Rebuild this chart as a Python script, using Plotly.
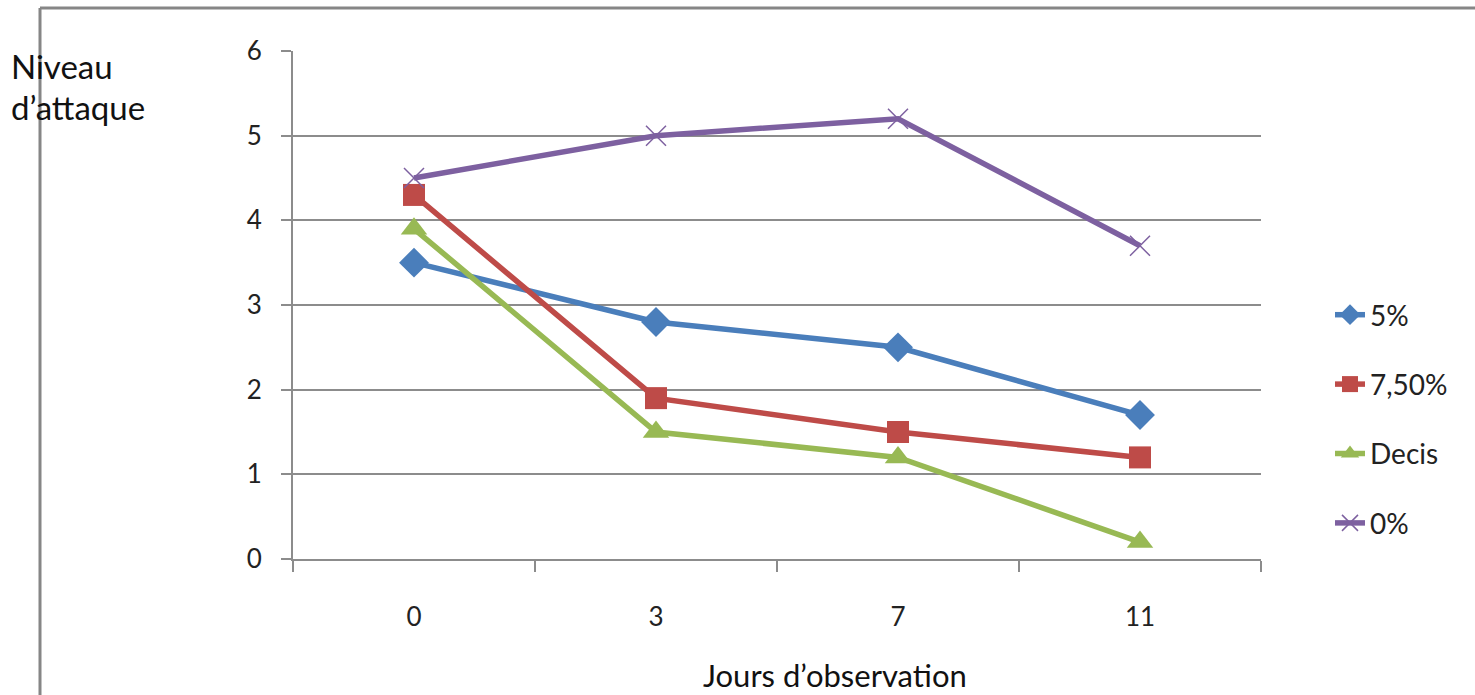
import plotly.graph_objects as go

categories = ["0", "3", "7", "11"]
s_5 = [3.5, 2.8, 2.5, 1.7]
s_750 = [4.3, 1.9, 1.5, 1.2]
s_decis = [3.9, 1.5, 1.2, 0.2]
s_0 = [4.5, 5.0, 5.2, 3.7]
y_ticks = [0, 1, 2, 3, 4, 5, 6]

FONT = "Lato"
W, H = 1475, 695
L, R, T, B = 293, 1475 - 1261, 51, 695 - 559
pw, ph = W - L - R, H - T - B

def px(x):
    return (x - L) / pw

def py(y):
    return (H - B - y) / ph

fig = go.Figure()
series = [
    ("5%", s_5, "#4A7EBB", "diamond", 23, 0),
    ("7,50%", s_750, "#BE4B48", "square", 22, 0),
    ("Decis", s_decis, "#98B954", "triangle-up", 23, 0),
    ("0%", s_0, "#7D60A0", "x-thin", 20, 1.5),
]
for i, (name, vals, col, sym, sz, lw) in enumerate(series):
    fig.add_trace(go.Scatter(
        x=categories, y=vals, name=name, mode="lines+markers",
        line=dict(color=col, width=5.5),
        marker=dict(symbol=sym, size=sz, color=col, line=dict(color=col, width=lw)),
        legendgroup=f"g{i}",
    ))

fig.update_layout(
    width=W, height=H,
    margin=dict(l=L, r=R, t=T, b=B),
    plot_bgcolor="white", paper_bgcolor="white",
    font=dict(family=FONT, color="#222222"),
    showlegend=True,
    legend=dict(x=px(1330), y=py(419), xanchor="left", yanchor="middle",
                font=dict(size=28, family=FONT, color="#222222"),
                tracegroupgap=30, traceorder="grouped",
                bgcolor="rgba(0,0,0,0)"),
    xaxis=dict(type="category", tickson="boundaries", ticks="outside", ticklen=11,
               tickcolor="#8c8c8c", tickwidth=1.5, showline=True, linecolor="#8c8c8c",
               linewidth=2, showgrid=False, tickfont=dict(size=26, family=FONT, color="#222222"),
               ticklabelstandoff=34, range=[-0.5, 3.5]),
    yaxis=dict(range=[0, 6], tickvals=y_ticks, ticks="outside", ticklen=10,
               tickcolor="#8c8c8c", tickwidth=1.5, showline=True, linecolor="#8c8c8c",
               linewidth=2, showgrid=True, gridcolor="#8c8c8c", gridwidth=1.8,
               zeroline=False, tickfont=dict(size=26, family=FONT, color="#222222"),
               ticklabelstandoff=14),
)

# outer frame lines (top and left)
fig.add_shape(type="line", xref="paper", yref="paper", x0=px(40), x1=px(1475), y0=py(8), y1=py(8),
              line=dict(color="#868686", width=3))
fig.add_shape(type="line", xref="paper", yref="paper", x0=px(40), x1=px(40), y0=py(8), y1=py(695),
              line=dict(color="#868686", width=3))

fig.add_annotation(text="Niveau", xref="paper", yref="paper", x=px(9), y=py(66),
                   xanchor="left", yanchor="middle", showarrow=False,
                   font=dict(size=33, family=FONT, color="#111111"))
fig.add_annotation(text="d’attaque", xref="paper", yref="paper", x=px(9), y=py(107),
                   xanchor="left", yanchor="middle", showarrow=False,
                   font=dict(size=33, family=FONT, color="#111111"))
fig.add_annotation(text="Jours d’observation", xref="paper", yref="paper", x=px(835), y=py(675),
                   xanchor="center", yanchor="middle", showarrow=False,
                   font=dict(size=31, family=FONT, color="#111111"))

fig.write_html("out.html")
